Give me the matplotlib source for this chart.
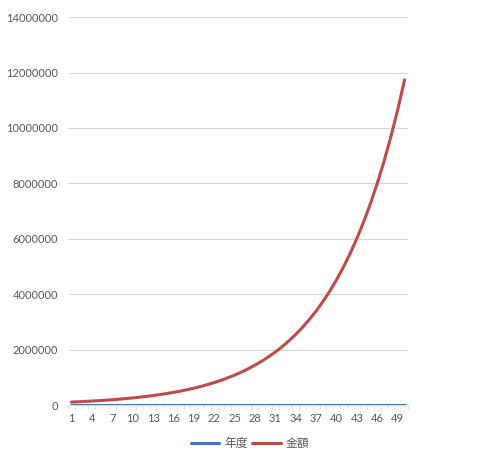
import numpy as np
import matplotlib.pyplot as plt
from matplotlib.ticker import FixedLocator

plt.rcParams['font.family'] = ['Lato', 'Noto Sans CJK TC', 'DejaVu Sans']

years = list(range(1, 51))
amount = [110000, 121000, 133100, 146410, 161051, 177156, 194872, 214359, 235795, 259374,
          285312, 313843, 345227, 379750, 417725, 459497, 505447, 555992, 611591, 672750,
          740025, 814027, 895430, 984973, 1083471, 1191818, 1310999, 1442099, 1586309, 1744940,
          1919434, 2111378, 2322515, 2554767, 2810244, 3091268, 3400395, 3740434, 4114478, 4525926,
          4978518, 5476370, 6024007, 6626408, 7289048, 8017953, 8819749, 9701723, 10671896, 11739085]
tick_years = years[::3]
y_ticks = [0, 2000000, 4000000, 6000000, 8000000, 10000000, 12000000, 14000000]

fig = plt.figure(figsize=(5, 4.63), dpi=100)
ax = fig.add_axes([0.136, 0.125, 0.68, 0.838])

ax.plot(years, years, color='#4472C4', lw=2.2, label='年度', solid_capstyle='round')
ax.plot(years, amount, color='#BE4B48', lw=2.2, label='金額', solid_capstyle='round')

ax.set_yticks(y_ticks)
ax.set_yticklabels([str(v) for v in y_ticks])
ax.set_xlim(0.5, 50.5)
ax.set_ylim(0, 14000000)
ax.xaxis.set_major_locator(FixedLocator(tick_years))
ax.xaxis.set_minor_locator(FixedLocator(np.arange(0.5, 51, 1)))

ax.grid(axis='y', color='#D9D9D9', lw=0.8)
ax.set_axisbelow(True)
for s in ['top', 'right', 'left']:
    ax.spines[s].set_visible(False)
ax.spines['bottom'].set_color('#D9D9D9')
ax.tick_params(axis='y', length=0, labelsize=8, labelcolor='#595959', pad=7)
ax.tick_params(axis='x', which='major', length=0, labelsize=8, labelcolor='#595959', pad=6)
ax.tick_params(axis='x', which='minor', length=3, color='#D9D9D9')

fig.legend(loc='center', bbox_to_anchor=(0.5, 0.043), ncol=2, frameon=False,
           fontsize=8.5, labelcolor='#595959', handlelength=2.4, columnspacing=0.4,
           handletextpad=0.4)

fig.savefig('out.png', dpi=100)
